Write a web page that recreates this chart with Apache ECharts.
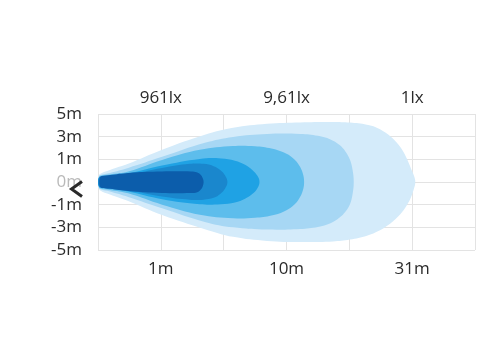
<!DOCTYPE html>
<html>
<head>
<meta charset="utf-8">
<script src="https://cdn.jsdelivr.net/npm/echarts@6/dist/echarts.min.js"></script>
<style>
  html, body { margin: 0; padding: 0; background: #ffffff; }
  #chart { width: 500px; height: 356px; }
</style>
</head>
<body>
<div id="chart"></div>
<script>
// Tick labels
var yTickLabels = ['-5m', '-3m', '-1m', '0m', '1m', '3m', '5m'];
var distanceLabels = { 1: '1m', 3: '10m', 5: '31m' };
var luxLabels = { 1: '961lx', 3: '9,61lx', 5: '1lx' };

// Beam contours (outline points in axis units: x = grid column, y = grid row from centre)
var beamOuter = [
  [0,0],[0.01,0.22],[0.03,0.35],[0.19,0.53],[0.48,0.80],[1.02,1.42],[1.70,2.08],[2.15,2.39],[2.69,2.57],[3.22,2.63],[3.74,2.65],
  [4.01,2.62],[4.28,2.53],[4.42,2.42],[4.54,2.24],[4.66,2.00],[4.76,1.72],[4.85,1.38],[4.92,1.00],[4.98,0.60],[5.03,0.26],[5.05,0],
  [5.03,-0.28],[4.98,-0.68],[4.92,-1.00],[4.84,-1.32],[4.74,-1.62],[4.62,-1.90],[4.48,-2.14],[4.28,-2.37],[4.01,-2.54],[3.74,-2.62],
  [3.22,-2.65],[2.69,-2.60],[2.15,-2.42],[1.70,-2.08],[1.02,-1.46],[0.48,-0.84],[0.19,-0.55],[0.03,-0.36],[0.01,-0.22]
];
var beam5 = [
  [0,0],[0.01,0.2],[0.03,0.3],[0.19,0.40],[0.48,0.62],[1.02,1.11],[1.70,1.73],[2.15,1.99],[2.69,2.12],[3.22,2.12],[3.50,2.04],
  [3.70,1.88],[3.84,1.64],[3.94,1.34],[4.01,0.98],[4.05,0.56],[4.07,0],
  [4.05,-0.56],[4.01,-0.98],[3.94,-1.30],[3.84,-1.58],[3.70,-1.82],[3.50,-1.98],[3.22,-2.07],[2.69,-2.10],[2.15,-2.00],[1.70,-1.76],
  [1.02,-1.16],[0.48,-0.66],[0.19,-0.42],[0.03,-0.31],[0.01,-0.2]
];
var beam4 = [
  [0,0],[0.01,0.18],[0.03,0.27],[0.19,0.33],[0.48,0.46],[1.02,0.97],[1.62,1.42],[2.15,1.59],[2.50,1.58],[2.76,1.48],[2.96,1.30],
  [3.10,1.06],[3.20,0.74],[3.26,0.38],[3.28,0],
  [3.26,-0.38],[3.20,-0.74],[3.10,-1.06],[2.96,-1.30],[2.76,-1.48],[2.50,-1.58],[2.15,-1.60],[1.62,-1.44],[1.02,-1.00],[0.48,-0.50],
  [0.19,-0.35],[0.03,-0.28],[0.01,-0.18]
];
var beam3 = [
  [0,0],[0.01,0.15],[0.03,0.22],[0.19,0.27],[0.48,0.38],[1.02,0.73],[1.62,1.02],[1.96,1.04],[2.18,0.94],[2.34,0.76],[2.46,0.52],
  [2.54,0.26],[2.57,0],
  [2.54,-0.26],[2.46,-0.52],[2.34,-0.74],[2.18,-0.90],[1.96,-0.98],[1.62,-0.98],[1.02,-0.76],[0.48,-0.42],[0.19,-0.29],[0.03,-0.23],[0.01,-0.15]
];
var beam2 = [
  [0,0],[0.01,0.15],[0.03,0.22],[0.19,0.25],[0.48,0.33],[1.02,0.62],[1.46,0.80],[1.68,0.80],[1.84,0.70],[1.95,0.52],[2.02,0.30],[2.06,0],
  [2.02,-0.30],[1.95,-0.52],[1.84,-0.70],[1.68,-0.78],[1.46,-0.78],[1.02,-0.64],[0.48,-0.36],[0.19,-0.27],[0.03,-0.23],[0.01,-0.15]
];
var beamCore = [
  [0.02,0],[0.03,0.2],[0.06,0.26],[0.19,0.31],[0.48,0.40],[1.02,0.46],[1.48,0.46],[1.58,0.42],[1.64,0.30],[1.67,0.14],[1.68,0],
  [1.67,-0.16],[1.64,-0.32],[1.58,-0.45],[1.48,-0.49],[1.02,-0.49],[0.48,-0.40],[0.19,-0.30],[0.06,-0.26],[0.03,-0.2]
];

var beamLayers = [beamOuter, beam5, beam4, beam3, beam2, beamCore];
var beamColors = ['#d4ebfa', '#a7d7f4', '#5dbdec', '#1fa2e4', '#1a87cd', '#0c5dab'];

var chart = echarts.init(document.getElementById('chart'), null, { renderer: 'canvas' });

var font = "'Open Sans', 'Noto Sans', sans-serif";
var gridColor = '#e3e3e3';

var option = {
  animation: false,
  backgroundColor: '#ffffff',
  grid: { left: 98, right: 25, top: 114, bottom: 106, containLabel: false },
  xAxis: [
    {
      type: 'value', position: 'bottom', min: 0, max: 6, interval: 1,
      axisLine: { show: false }, axisTick: { show: false },
      splitLine: { show: true, lineStyle: { color: gridColor, width: 1 } },
      axisLabel: {
        margin: 11, fontSize: 17, color: '#2b2b2b', fontFamily: font,
        formatter: function (v) { return distanceLabels[v] || ''; }
      }
    },
    {
      type: 'value', position: 'top', min: 0, max: 6, interval: 1,
      axisLine: { show: false }, axisTick: { show: false },
      splitLine: { show: false },
      axisLabel: {
        margin: 7, fontSize: 17, color: '#2b2b2b', fontFamily: font,
        formatter: function (v) { return luxLabels[v] || ''; }
      }
    }
  ],
  yAxis: {
    type: 'value', min: -3, max: 3, interval: 1,
    axisLine: { show: false }, axisTick: { show: false },
    splitLine: { show: true, lineStyle: { color: gridColor, width: 1 } },
    axisLabel: {
      margin: 16, fontSize: 17, color: '#2b2b2b', fontFamily: font,
      formatter: function (v) {
        var t = yTickLabels[Math.round(v) + 3];
        return v === 0 ? '{g|' + t + '}' : t;
      },
      rich: { g: { color: '#b9b9b9', fontSize: 17, fontFamily: font } }
    }
  },
  series: [{
    type: 'custom',
    coordinateSystem: 'cartesian2d',
    xAxisIndex: 0,
    yAxisIndex: 0,
    silent: true,
    data: beamLayers.map(function (l, i) { return [i, 0]; }),
    renderItem: function (params, api) {
      var outline = beamLayers[params.dataIndex];
      var pts = outline.map(function (p) { return api.coord(p); });
      return {
        type: 'polygon',
        shape: { points: pts, smooth: 0.4 },
        style: { fill: beamColors[params.dataIndex] }
      };
    }
  }],
  graphic: [{
    type: 'polyline',
    shape: { points: [[82, 181.5], [71.5, 189], [82, 196.5]] },
    style: { stroke: '#2a2a2a', lineWidth: 3, fill: null, lineJoin: 'miter' },
    z: 100
  }]
};

chart.setOption(option);
</script>
</body>
</html>
